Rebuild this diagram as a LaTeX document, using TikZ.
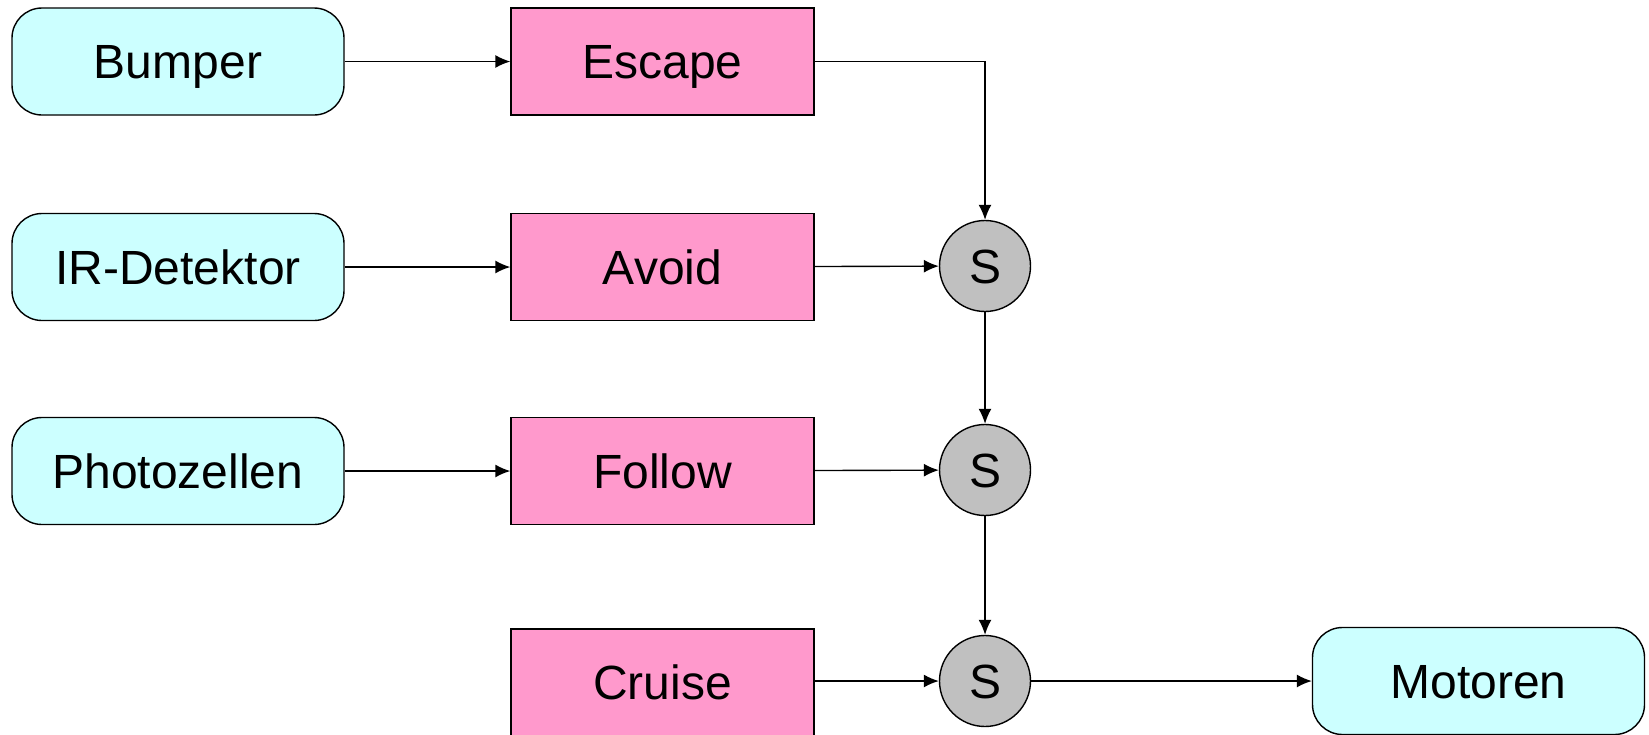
\documentclass[tikz,border=0pt]{standalone}
\usepackage{fontspec}
\setmainfont{Liberation Sans}
\usetikzlibrary{arrows.meta}

\definecolor{sensorcyan}{HTML}{CCFFFF}
\definecolor{behaviorpink}{HTML}{FF99CC}
\definecolor{suppgray}{HTML}{C0C0C0}

\begin{document}
\begin{tikzpicture}[x=1pt, y=-1pt,
    font=\fontsize{48}{56}\selectfont,
    line width=1.4pt,
    >={Latex[length=15pt, width=13pt]},
    box/.style={draw, rectangle, text height=34pt, text depth=0pt,
      minimum height=107pt, inner sep=0pt},
    sensor/.style={box, rounded corners=30pt, fill=sensorcyan, minimum width=332pt},
    behavior/.style={box, fill=behaviorpink, minimum width=303pt},
    supp/.style={draw, circle, fill=suppgray, minimum size=91pt, inner sep=0pt,
      text height=34pt, text depth=0pt}]
          \useasboundingbox (0,0) rectangle (1649,734);

          % Nodes for sensors (rounded boxes)
          \node[sensor] (bumper) at (178, 61.5) {Bumper};
          \node[sensor] (irdet) at (178, 267) {IR-Detektor};
          \node[sensor] (photo) at (178, 471) {Photozellen};
          \node[sensor] (motoren) at (1478.5, 681) {Motoren};

          % Nodes for behaviours (boxes)
          \node[behavior] (escape) at (662.5, 61.5) {Escape};
          \node[behavior] (avoid) at (662.5, 267) {Avoid};
          \node[behavior] (follow) at (662.5, 471) {Follow};
          \node[behavior] (cruise) at (662.5, 682.5) {Cruise};

          % Suppressor nodes (circles)
          \node[supp] (s1) at (985, 266) {S};
          \node[supp] (s2) at (985, 470) {S};
          \node[supp] (s3) at (985, 681) {S};

          % Sensor to behaviour edges
          \draw [->] (bumper) -- (escape);
          \draw [->] (irdet) -- (avoid);
          \draw [->] (photo) -- (follow);

          % Behaviour to suppressor edges
          \draw [->] (escape.east) -| (s1.north);
          \draw [->] (avoid) -- (s1);
          \draw [->] (follow) -- (s2);
          \draw [->] (cruise.east |- s3) -- (s3);

          % Suppressor chain
          \draw [->] (s1) -- (s2);
          \draw [->] (s2) -- (s3);
          \draw [->] (s3) -- (motoren);
        \end{tikzpicture}
\end{document}
